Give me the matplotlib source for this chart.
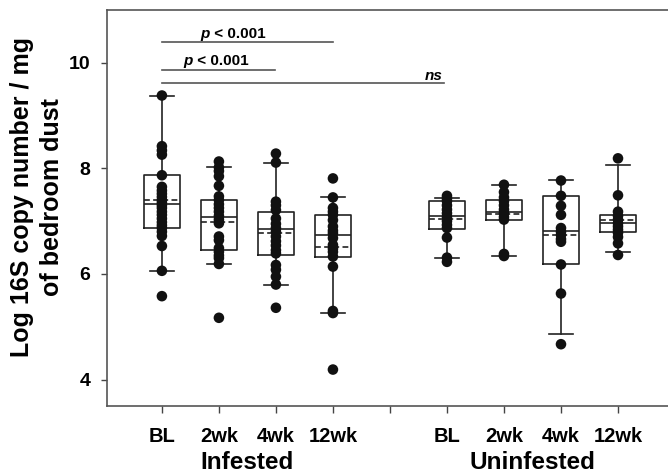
import numpy as np
import matplotlib.pyplot as plt
from matplotlib.transforms import blended_transform_factory

plt.rcParams['font.family'] = ['Liberation Sans', 'DejaVu Sans']
plt.rcParams['font.weight'] = 'bold'

# tick positions 1..4 infested, 6..9 uninfested (5 is the unlabeled gap)
positions = [1, 2, 3, 4, 6, 7, 8, 9]
tick_labels = ['BL', '2wk', '4wk', '12wk', '', 'BL', '2wk', '4wk', '12wk']
groups = ['Infested', 'Uninfested']
group_x = [2.5, 7.5]

# log copy numbers per visit
inf_bl = [9.38, 8.42, 8.34, 8.26, 7.87, 7.65, 7.58, 7.52, 7.46, 7.40, 7.35, 7.30,
          7.25, 7.18, 7.12, 7.05, 6.98, 6.92, 6.87, 6.80, 6.72, 6.53, 6.06, 5.58]
inf_2wk = [8.13, 8.02, 7.95, 7.85, 7.67, 7.47, 7.40, 7.32, 7.25, 7.18, 7.10,
           7.03, 6.96, 6.71, 6.64, 6.49, 6.42, 6.35, 6.30, 6.19, 5.17]
inf_4wk = [8.28, 8.11, 7.37, 7.30, 7.21, 7.05, 6.95, 6.87, 6.80, 6.71, 6.62,
           6.54, 6.45, 6.39, 6.17, 6.08, 5.95, 5.80, 5.36]
inf_12wk = [7.81, 7.45, 7.25, 7.18, 7.12, 7.02, 6.90, 6.82, 6.77, 6.68, 6.55,
            6.48, 6.42, 6.33, 6.14, 5.30, 5.26, 4.19]
un_bl = [7.48, 7.43, 7.38, 7.30, 7.22, 7.15, 7.08, 7.00, 6.93, 6.87, 6.69, 6.31, 6.23]
un_2wk = [7.69, 7.55, 7.45, 7.38, 7.30, 7.22, 7.15, 7.08, 7.03, 6.38, 6.34]
un_4wk = [7.77, 7.48, 7.29, 7.12, 6.87, 6.80, 6.74, 6.66, 6.61, 6.18, 5.63, 4.67]
un_12wk = [8.19, 7.49, 7.18, 7.10, 7.03, 6.96, 6.90, 6.84, 6.78, 6.70, 6.58, 6.36]
points = [inf_bl, inf_2wk, inf_4wk, inf_12wk, un_bl, un_2wk, un_4wk, un_12wk]

# box statistics: 25th/75th percentiles, median, mean, 10th/90th whiskers
q1 = [6.87, 6.45, 6.36, 6.33, 6.86, 7.03, 6.19, 6.79]
med = [7.33, 7.08, 6.85, 6.74, 7.10, 7.18, 6.82, 6.96]
q3 = [7.87, 7.40, 7.18, 7.12, 7.39, 7.41, 7.47, 7.12]
mean = [7.40, 6.98, 6.78, 6.52, 7.05, 7.14, 6.74, 7.03]
whislo = [6.06, 6.19, 5.80, 5.26, 6.31, 6.34, 4.86, 6.42]
whishi = [9.38, 8.02, 8.11, 7.45, 7.43, 7.68, 7.78, 8.07]

# comparison bars: start, end and height of each
comp_start = [1, 1, 1]
comp_end = [4, 2.98, 5.95]
comp_y = [10.39, 9.86, 9.62]

line_col = '#222222'

fig = plt.figure(figsize=(6.68, 4.75), dpi=100)
ax = fig.add_axes([0.160, 0.1453, 0.840, 0.8337])

stats = []
for i in range(len(positions)):
    stats.append(dict(q1=q1[i], med=med[i], q3=q3[i], mean=mean[i],
                      whislo=whislo[i], whishi=whishi[i], fliers=[]))

ax.bxp(stats, positions=positions, widths=0.62, capwidths=0.42,
       showmeans=True, meanline=True, showfliers=False,
       boxprops=dict(color=line_col, linewidth=1.2),
       medianprops=dict(color=line_col, linewidth=1.2),
       meanprops=dict(color=line_col, linewidth=1.2, linestyle=(0, (3.5, 2))),
       whiskerprops=dict(color=line_col, linewidth=1.2),
       capprops=dict(color=line_col, linewidth=1.2))

for pos, vals in zip(positions, points):
    ax.scatter(np.full(len(vals), pos), vals, s=58, color='#111111',
               edgecolors='none', zorder=5)

# significance bars
for x0, x1, y in zip(comp_start, comp_end, comp_y):
    ax.plot([x0, x1], [y, y], color='#555555', linewidth=1.2, clip_on=False)

for x, y in [(1.84, 10.47), (1.54, 9.95)]:
    ax.text(x, y, 'p', style='italic', fontweight='bold', fontsize=11,
            ha='right', va='baseline')
    ax.text(x, y, ' < 0.001', fontweight='bold', fontsize=11,
            ha='left', va='baseline')
ax.text(5.76, 9.68, 'ns', style='italic', fontweight='bold', fontsize=11,
        ha='center', va='baseline')

ax.set_xlim(0.035, 9.877)
ax.set_ylim(3.5, 11)
ax.set_yticks([4, 6, 8, 10])
ax.set_xticks(range(1, 10))
ax.set_xticklabels(tick_labels)
ax.tick_params(axis='y', labelsize=14, length=4, width=1, color='#444444', pad=8)
ax.tick_params(axis='x', labelsize=14.5, length=5, width=1, color='#444444', pad=10)
for lbl in ax.get_xticklabels() + ax.get_yticklabels():
    lbl.set_fontweight('bold')

ax.spines['right'].set_visible(False)
for side in ['left', 'top', 'bottom']:
    ax.spines[side].set_color('#555555')
    ax.spines[side].set_linewidth(1.2)

# group names under the visit labels
group_trans = blended_transform_factory(ax.transData, fig.transFigure)
for gx, name in zip(group_x, groups):
    ax.text(gx, 1 / 475, name, transform=group_trans, fontsize=17.5,
            fontweight='bold', ha='center', va='bottom')

fig.text(37 / 668, 1 - 197 / 475, 'Log 16S copy number / mg\nof bedroom dust',
         rotation=90, ha='center', va='center', multialignment='center',
         fontsize=18, fontweight='bold', linespacing=1.3)

fig.savefig('out.png', dpi=100)
